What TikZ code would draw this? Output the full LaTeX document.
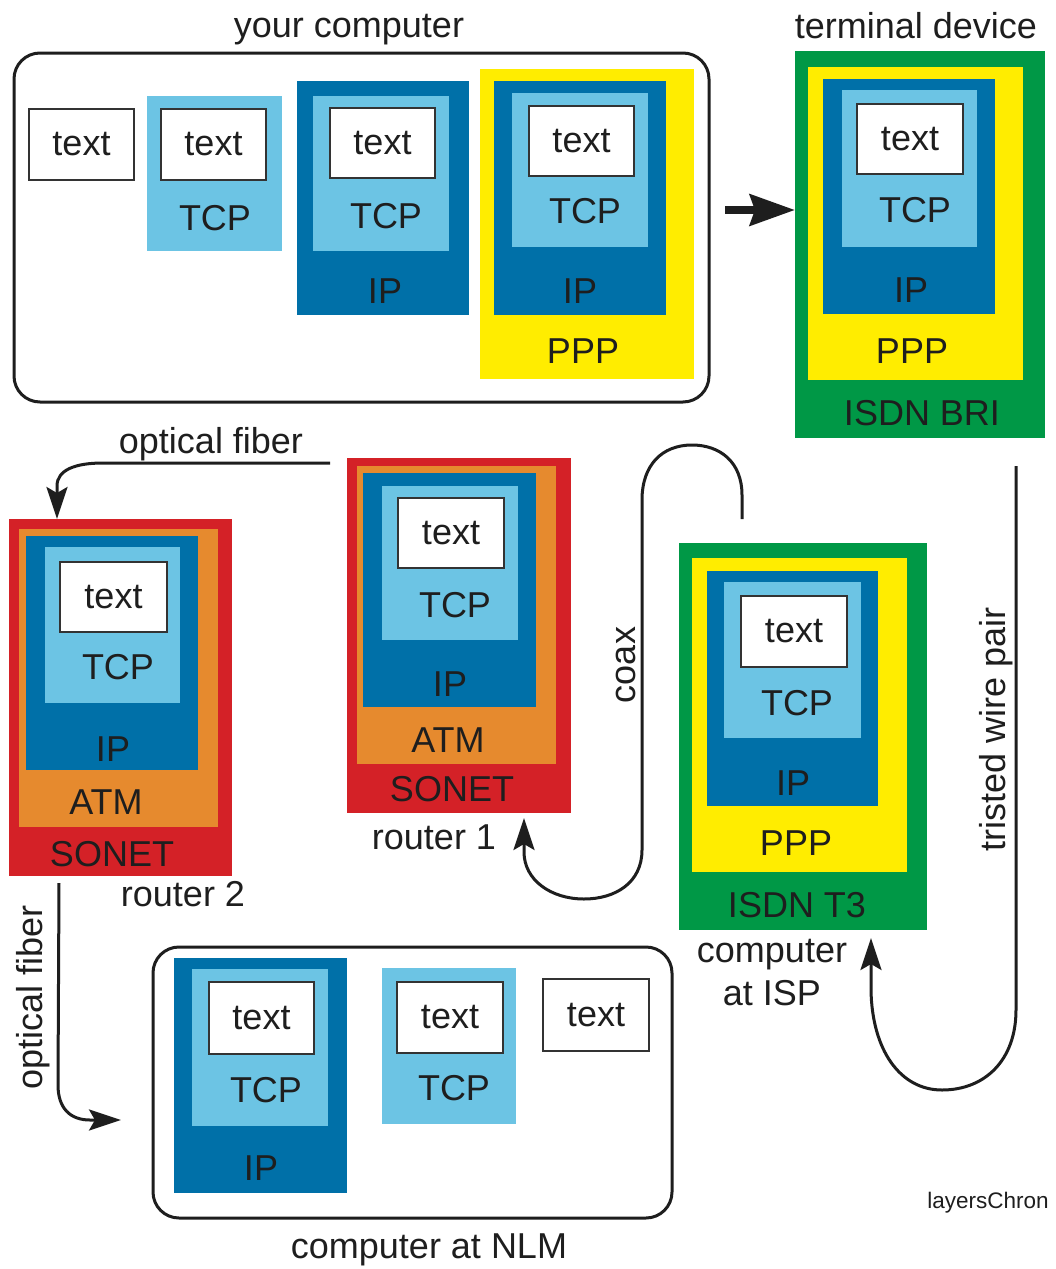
\documentclass[tikz,border=0pt]{standalone}
\usepackage{fontspec}
\setmainfont{Liberation Sans}
\usetikzlibrary{arrows.meta,fit,calc}
\definecolor{lblue}{RGB}{108,196,228}
\definecolor{dblue}{RGB}{0,112,168}
\definecolor{pppy}{RGB}{255,237,0}
\definecolor{isdng}{RGB}{0,152,70}
\definecolor{atmo}{RGB}{230,138,46}
\definecolor{sonr}{RGB}{212,33,39}
\definecolor{ink}{RGB}{30,30,30}
\begin{document}
\begin{tikzpicture}[x=1pt,y=-1pt,
  layer/.style={inner sep=0pt, outer sep=0pt},
  tcpbox/.style={layer, fill=lblue},
  ipbox/.style={layer, fill=dblue},
  pppbox/.style={layer, fill=pppy},
  isdnbox/.style={layer, fill=isdng},
  atmbox/.style={layer, fill=atmo},
  sonetbox/.style={layer, fill=sonr},
  lbl/.style={inner sep=0pt, text=ink, font=\fontsize{36}{43}\selectfont},
  txtbox/.style={layer, fill=white, draw=black!80, line width=1.8pt, label={[lbl]center:text}},
  caplab/.style={lbl, anchor=base},
  hostbox/.style={layer, draw=ink, line width=3pt, rounded corners=26pt},
  conn/.style={draw=ink, line width=3pt, -{Stealth[length=32pt,width=21pt,inset=6pt]}},
  bigarrow/.style={draw=ink, line width=8pt, -{Stealth[length=45pt,width=31pt,inset=5pt]}}
]
\useasboundingbox[fill=white] (0,0) rectangle (1055,1269);

% ---------- your computer ----------
\node[hostbox, fit={(14,53)(709,402)}] (yc) {};
\node[caplab] (yclab) at (349,37) {your computer};
\node[txtbox, fit={(29,109)(134,180)}] (yc1t) {};
\node[tcpbox, fit={(147,96)(282,251)}] (yc2c) {};
\node[txtbox, fit={(161,109)(266,180)}] (yc2t) {};
\node[lbl] (yc2tcp) at (215,218) {TCP};
\node[ipbox, fit={(297,81)(469,315)}] (yc3i) {};
\node[tcpbox, fit={(313,96)(449,251)}] (yc3c) {};
\node[txtbox, fit={(330,108)(435,178)}] (yc3t) {};
\node[lbl] (yc3tcp) at (386,216) {TCP};
\node[lbl] (yc3ip) at (385,291) {IP};
\node[pppbox, fit={(480,69)(694,379)}] (yc4p) {};
\node[ipbox, fit={(494,81)(666,315)}] (yc4i) {};
\node[tcpbox, fit={(512,93)(648,247)}] (yc4c) {};
\node[txtbox, fit={(529,106)(634,176)}] (yc4t) {};
\node[lbl] (yc4tcp) at (585,211) {TCP};
\node[lbl] (yc4ip) at (580,291) {IP};
\node[lbl] (yc4ppp) at (583,351) {PPP};

% ---------- terminal device ----------
\node[caplab] (tdlab) at (916,38) {terminal device};
\node[isdnbox, fit={(795,51)(1045,438)}] (td) {};
\node[pppbox, fit={(808,67)(1023,380)}] (tdp) {};
\node[ipbox, fit={(823,79)(995,314)}] (tdi) {};
\node[tcpbox, fit={(842,90)(977,247)}] (tdc) {};
\node[txtbox, fit={(857,104)(963,174)}] (tdt) {};
\node[lbl] (tdtcp) at (915,210) {TCP};
\node[lbl] (tdip) at (911,290) {IP};
\node[lbl] (tdppp) at (912,351) {PPP};
\node[lbl] (tdisdn) at (922,413) {ISDN BRI};

% ---------- router 2 ----------
\node[sonetbox, fit={(9,519)(232,876)}] (r2) {};
\node[atmbox, fit={(19,529)(218,827)}] (r2a) {};
\node[ipbox, fit={(26,536)(198,770)}] (r2i) {};
\node[tcpbox, fit={(45,547)(180,703)}] (r2c) {};
\node[txtbox, fit={(60,562)(167,632)}] (r2t) {};
\node[lbl] (r2tcp) at (118,667) {TCP};
\node[lbl] (r2ip) at (113,749) {IP};
\node[lbl] (r2atm) at (106,802) {ATM};
\node[lbl] (r2son) at (112,854) {SONET};
\node[caplab] (r2lab) at (183,906) {router 2};

% ---------- router 1 ----------
\node[sonetbox, fit={(347,458)(571,813)}] (r1) {};
\node[atmbox, fit={(357,466)(556,764)}] (r1a) {};
\node[ipbox, fit={(363,473)(536,707)}] (r1i) {};
\node[tcpbox, fit={(382,486)(518,640)}] (r1c) {};
\node[txtbox, fit={(398,498)(504,568)}] (r1t) {};
\node[lbl] (r1tcp) at (455,605) {TCP};
\node[lbl] (r1ip) at (450,684) {IP};
\node[lbl] (r1atm) at (448,740) {ATM};
\node[lbl] (r1son) at (452,789) {SONET};
\node[caplab] (r1lab) at (434,849) {router 1};

% ---------- computer at ISP ----------
\node[isdnbox, fit={(679,543)(927,930)}] (isp) {};
\node[pppbox, fit={(692,558)(907,872)}] (ispp) {};
\node[ipbox, fit={(707,571)(878,806)}] (ispi) {};
\node[tcpbox, fit={(724,582)(861,738)}] (ispc) {};
\node[txtbox, fit={(741,596)(847,667)}] (ispt) {};
\node[lbl] (isptcp) at (797,703) {TCP};
\node[lbl] (ispip) at (793,783) {IP};
\node[lbl] (ispppp) at (796,843) {PPP};
\node[lbl] (ispisdn) at (797,905) {ISDN T3};
\node[caplab, align=center] (isplab) at (772,1005) {computer\\at ISP};

% ---------- computer at NLM ----------
\node[hostbox, fit={(153,947)(672,1218)}] (nlm) {};
\node[ipbox, fit={(174,958)(347,1193)}] (nlm1i) {};
\node[tcpbox, fit={(192,969)(328,1126)}] (nlm1c) {};
\node[txtbox, fit={(209,982)(314,1054)}] (nlm1t) {};
\node[lbl] (nlm1tcp) at (266,1090) {TCP};
\node[lbl] (nlm1ip) at (261,1168) {IP};
\node[tcpbox, fit={(382,968)(516,1124)}] (nlm2c) {};
\node[txtbox, fit={(397,982)(503,1053)}] (nlm2t) {};
\node[lbl] (nlm2tcp) at (454,1088) {TCP};
\node[txtbox, fit={(543,979)(649,1051)}] (nlm3t) {};
\node[caplab] (nlmlab) at (429,1258) {computer at NLM};

\node[inner sep=0pt, anchor=base, text=ink, font=\fontsize{22.5}{26}\selectfont] (credit) at (988,1208) {layersChron};

% ---------- connectors ----------
\coordinate (a0) at (725,210);
\draw[bigarrow] (a0) -- (a0 -| td.west);

\coordinate (of1) at (330,463);
\coordinate (of1e) at ($(r2.north west)+(48,0)$);
\draw[conn] (of1) -- (103,463) .. controls (75,463) and (57,470) .. (57,486) -- (of1e);
\node[caplab] (of1lab) at (211,453) {optical fiber};

\coordinate (cx) at (742,519);
\coordinate (cxe) at ($(r1.south west)+(177,5)$);
\draw[conn] (cx) -- (742,495) .. controls (742,462) and (720,445) .. (692,445)
  .. controls (662,445) and (642,465) .. (642,500) -- (642,850)
  .. controls (642,883) and (615,899) .. (584,899)
  .. controls (551,899) and (524,880) .. (524,852) -- (cxe);
\node[caplab, rotate=90] (cxlab) at (635,665) {coax};

\coordinate (tw) at (1016,466);
\coordinate (twe) at ($(isp.south west)+(192,8)$);
\draw[conn] (tw) -- (1016,1010) .. controls (1016,1060) and (985,1090) .. (942,1090)
  .. controls (900,1090) and (872,1050) .. (871,990) -- (twe);
\node[caplab, rotate=90] (twlab) at (1005,729) {tristed wire pair};

\coordinate (of2) at (59,883);
\coordinate (of2e) at (121,1120);
\draw[conn] (of2) -- (58,1085) .. controls (58,1108) and (70,1120) .. (90,1120) -- (of2e);
\node[caplab, rotate=90] (of2lab) at (42,997) {optical fiber};
\end{tikzpicture}
\end{document}
